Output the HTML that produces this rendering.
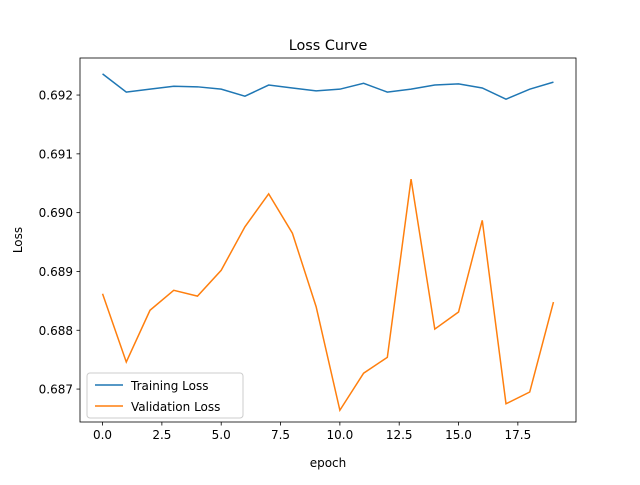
<!DOCTYPE html>
<html><head><meta charset="utf-8"><style>
body{margin:0;background:#fff;}
text{font-family:"DejaVu Sans","Liberation Sans",sans-serif;fill:#000;}
</style></head><body>
<svg width="640" height="480" id="chart">
<rect width="640" height="480" fill="#fff"/>
<text x="328" y="50" font-size="14.4" text-anchor="middle">Loss Curve</text>
<g id="plot"></g>
<rect x="80" y="58" width="496" height="364" fill="none" stroke="#000" stroke-width="0.8"/>
<text x="328" y="467" font-size="12" text-anchor="middle">epoch</text>
<text x="22" y="240" font-size="12" text-anchor="middle" transform="rotate(-90 22 240)">Loss</text>
<g>
<rect x="87" y="373" width="156" height="45" rx="3" fill="#fff" fill-opacity="0.8" stroke="#ccc"/>
<line x1="95" y1="385" x2="123" y2="385" stroke="#1f77b4" stroke-width="1.5"/>
<text x="131" y="390" font-size="12">Training Loss</text>
<line x1="95" y1="406" x2="123" y2="406" stroke="#ff7f0e" stroke-width="1.5"/>
<text x="131" y="411" font-size="12">Validation Loss</text>
</g>
</svg>
<script>
const epochs=[0,1,2,3,4,5,6,7,8,9,10,11,12,13,14,15,16,17,18,19];
const trainLoss=[0.69236,0.69205,0.6921,0.69215,0.69214,0.6921,0.69198,0.69217,0.69212,0.69207,0.6921,0.6922,0.69205,0.6921,0.69217,0.69219,0.69212,0.69193,0.6921,0.69222];
const valLoss=[0.68862,0.68746,0.68834,0.68868,0.68858,0.68902,0.68976,0.69032,0.68965,0.6884,0.68664,0.68727,0.68754,0.69057,0.68802,0.68831,0.68987,0.68675,0.68695,0.68848];
const xTicks=[0,2.5,5,7.5,10,12.5,15,17.5];
const xTickLabels=["0.0","2.5","5.0","7.5","10.0","12.5","15.0","17.5"];
const yTicks=[0.687,0.688,0.689,0.690,0.691,0.692];
const yTickLabels=["0.687","0.688","0.689","0.690","0.691","0.692"];
const X0=80,X1=576,Y0=58,Y1=422;
const xMin=-0.95,xMax=19.95,yMin=0.68644,yMax=0.69263;
const sx=v=>X0+(v-xMin)/(xMax-xMin)*(X1-X0);
const sy=v=>Y1-(v-yMin)/(yMax-yMin)*(Y1-Y0);
const NS="http://www.w3.org/2000/svg";
const g=document.getElementById('plot');
function mk(t,a){const e=document.createElementNS(NS,t);for(const k in a)e.setAttribute(k,a[k]);g.appendChild(e);return e;}
xTicks.forEach((v,i)=>{
 const l=mk('line',{x1:sx(v),x2:sx(v),y1:Y1,y2:Y1+3.5,stroke:'#000','stroke-width':0.8});
 
 
 const t=mk('text',{x:sx(v),y:Y1+17,'font-size':12,'text-anchor':'middle'});t.textContent=xTickLabels[i];
 
 
});
yTicks.forEach((v,i)=>{
 const l=mk('line',{x1:X0-3.5,x2:X0,y1:sy(v),y2:sy(v),stroke:'#000','stroke-width':0.8});
 
 
 const t=mk('text',{x:X0-7,y:sy(v)+4.5,'font-size':12,'text-anchor':'end'});t.textContent=yTickLabels[i];
 
 
});
function series(d,c,n){
 const p=mk('polyline',{points:d.map((v,i)=>sx(epochs[i])+','+sy(v)).join(' '),fill:'none',stroke:c,'stroke-width':1.5});
 
 
}
series(trainLoss,'#1f77b4','training-loss-line');
series(valLoss,'#ff7f0e','validation-loss-line');
</script>
</body></html>
